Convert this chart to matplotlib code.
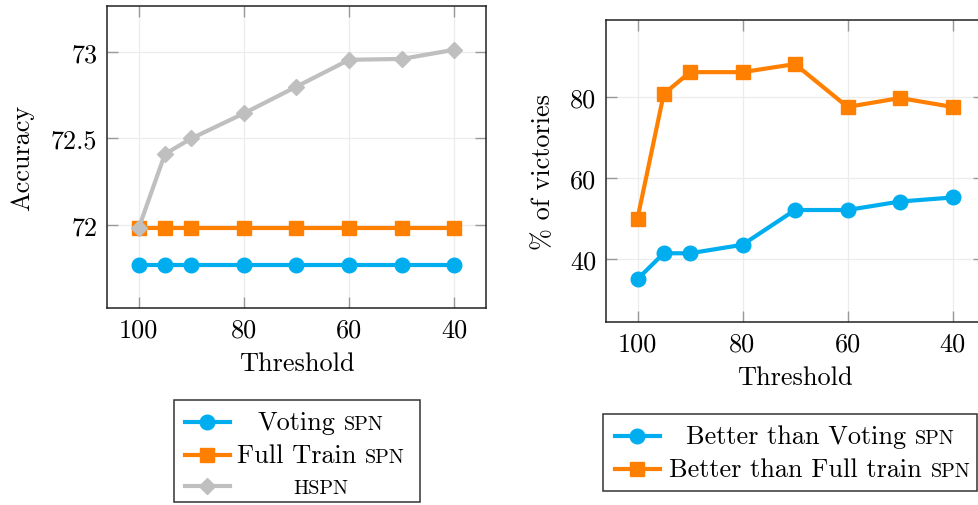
import matplotlib
matplotlib.use("Agg")
import matplotlib.pyplot as plt
from matplotlib.lines import Line2D
from matplotlib.patches import Rectangle

plt.rcParams["font.family"] = ["cmr10", "DejaVu Serif"]
plt.rcParams["mathtext.fontset"] = "cm"
plt.rcParams["axes.formatter.use_mathtext"] = True

# ---- data -------------------------------------------------------------
threshold = [100, 95, 90, 80, 70, 60, 50, 40]

acc_voting = [71.77, 71.77, 71.77, 71.77, 71.77, 71.77, 71.77, 71.77]
acc_full = [71.98, 71.98, 71.98, 71.98, 71.98, 71.98, 71.98, 71.98]
acc_hspn = [71.98, 72.41, 72.50, 72.645, 72.80, 72.955, 72.96, 73.013]

vict_voting = [35.0, 41.4, 41.4, 43.5, 52.1, 52.1, 54.2, 55.2]
vict_full = [50.0, 80.8, 86.2, 86.2, 88.2, 77.6, 79.8, 77.6]

x_ticks = [100, 80, 60, 40]
acc_ticks = [72, 72.5, 73]
acc_tick_labels = ["72", "72.5", "73"]
vict_ticks = [40, 60, 80]

left_legend = [("Voting", "SPN"), ("Full Train", "SPN"), ("", "HSPN")]
right_legend = [("Better than Voting", "SPN"), ("Better than Full train", "SPN")]

# ---- style ------------------------------------------------------------
BLUE = "#00AEEF"
ORANGE = "#FF8000"
GRAY = "#BFBFBF"
FS = 18.9
SC = 14.5
LW = 3.0

W, H = 979, 506
fig = plt.figure(figsize=(W / 100, H / 100), dpi=100)


def px_axes(x0, y0, x1, y1):
    return fig.add_axes([x0 / W, 1 - y1 / H, (x1 - x0) / W, (y1 - y0) / H])


def style_axes(ax):
    for s in ax.spines.values():
        s.set_color("#222222")
        s.set_linewidth(1.1)
    ax.tick_params(direction="in", length=8, width=1.0, color="#999999",
                   top=True, right=True, labelsize=FS, pad=7)
    ax.grid(True, color="#ececec", linewidth=0.9)
    ax.set_axisbelow(True)
    ax.set_xticks(x_ticks)
    ax.set_xticklabels([str(t) for t in x_ticks])


series_style = dict(linewidth=LW, solid_joinstyle="miter")

# Left: accuracy
ax1 = px_axes(107, 7, 486, 309)
ax1.plot(threshold, acc_voting, color=BLUE, marker="o", markersize=10.5, **series_style)
ax1.plot(threshold, acc_full, color=ORANGE, marker="s", markersize=10, **series_style)
ax1.plot(threshold, acc_hspn, color=GRAY, marker="D", markersize=8.5, **series_style)
ax1.set_xlim(106, 34)
ax1.set_ylim(71.52, 73.266)
style_axes(ax1)
ax1.set_yticks(acc_ticks)
ax1.set_yticklabels(acc_tick_labels)
ax1.set_xlabel("Threshold", fontsize=FS)
ax1.xaxis.set_label_coords(0.5, -0.182)
ax1.xaxis.label.set_va("center")
ax1.set_ylabel("Accuracy", fontsize=FS)
ax1.yaxis.set_label_coords(-0.224, 0.5)
ax1.yaxis.label.set_va("center")

# Right: percentage of victories
ax2 = px_axes(606, 21, 984, 323)
ax2.plot(threshold, vict_voting, color=BLUE, marker="o", markersize=10.5, **series_style)
ax2.plot(threshold, vict_full, color=ORANGE, marker="s", markersize=10, **series_style)
ax2.set_xlim(106, 34)
ax2.set_ylim(24.4, 99.1)
style_axes(ax2)
ax2.set_yticks(vict_ticks)
ax2.set_yticklabels([str(t) for t in vict_ticks])
ax2.set_xlabel("Threshold", fontsize=FS)
ax2.xaxis.set_label_coords(0.5, -0.182)
ax2.xaxis.label.set_va("center")
ax2.set_ylabel("% of victories", fontsize=FS)
ax2.yaxis.set_label_coords(-0.167, 0.5)
ax2.yaxis.label.set_va("center")

# ---- legends drawn below each panel -----------------------------------
renderer = fig.canvas.get_renderer()


def fig_line(x0, x1, y, color, marker, ms):
    fig.add_artist(Line2D([x0 / W, x1 / W], [1 - y / H, 1 - y / H],
                          transform=fig.transFigure, color=color, linewidth=LW))
    fig.add_artist(Line2D([(x0 + x1) / 2 / W], [1 - y / H], transform=fig.transFigure,
                          color=color, marker=marker, markersize=ms, linestyle="none"))


def label_with_caps(cx, y_base, main, caps):
    parts = []
    if main:
        parts.append((main, FS))
    parts.append((caps, SC))
    texts, widths = [], []
    for s, size in parts:
        t = fig.text(0, 1 - y_base / H, s, fontsize=size, va="baseline", ha="left")
        texts.append(t)
        widths.append(t.get_window_extent(renderer).width)
    gap = 0.333 * FS * 100 / 72 if main else 0
    total = sum(widths) + gap
    x = cx - total / 2
    for i, t in enumerate(texts):
        t.set_x(x / W)
        x += widths[i] + (gap if i == 0 and main else 0)


def legend_box(x0, y0, x1, y1):
    fig.add_artist(Rectangle((x0 / W, 1 - y1 / H), (x1 - x0) / W, (y1 - y0) / H,
                             transform=fig.transFigure, facecolor="white",
                             edgecolor="#333333", linewidth=1.1))


legend_box(174, 401, 420, 503)
markers = [(BLUE, "o", 10.5), (ORANGE, "s", 10), (GRAY, "D", 8.5)]
rows_left = [423, 456, 487]
for (main, caps), (c, m, ms), y in zip(left_legend, markers, rows_left):
    fig_line(185, 230, y, c, m, ms)
    label_with_caps(321, y + 7, main, caps)

legend_box(603, 415, 977, 492)
rows_right = [437, 470]
for (main, caps), (c, m, ms), y in zip(right_legend, markers, rows_right):
    fig_line(615, 660, y, c, m, ms)
    label_with_caps(820, y + 7, main, caps)

fig.savefig("out.png", dpi=100)
